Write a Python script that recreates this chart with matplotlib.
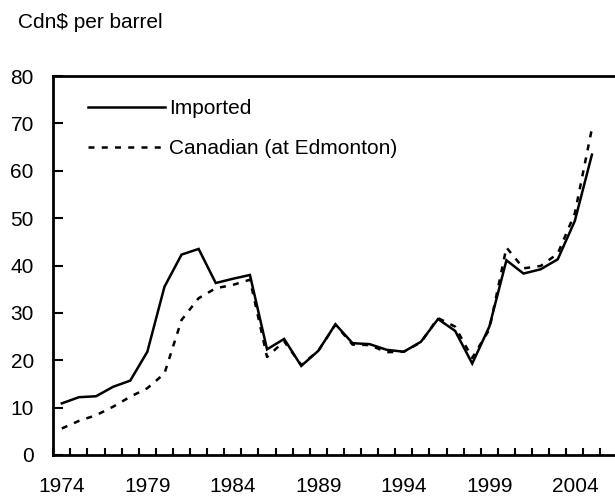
import matplotlib
matplotlib.use("Agg")
import matplotlib.pyplot as plt
import numpy as np

years = list(range(1974, 2006))
imported = [10.9, 12.2, 12.4, 14.4, 15.7, 21.8, 35.5, 42.3, 43.5, 36.3, 37.2, 38.0,
            22.3, 24.5, 18.8, 22.0, 27.6, 23.6, 23.4, 22.2, 21.8, 23.9, 28.7, 26.2,
            19.3, 27.1, 41.1, 38.3, 39.2, 41.3, 49.4, 63.4]
canadian = [5.6, 7.2, 8.4, 10.2, 12.3, 14.1, 17.2, 28.5, 33.1, 35.2, 35.9, 37.0,
            20.7, 24.0, 19.0, 22.0, 27.5, 23.3, 23.2, 21.7, 21.8, 23.8, 28.9, 27.1,
            20.5, 26.5, 43.8, 39.4, 39.9, 42.5, 51.0, 68.9]
xtick_labels = ["1974", "1979", "1984", "1989", "1994", "1999", "2004"]
ytick_values = [0, 10, 20, 30, 40, 50, 60, 70, 80]

plt.rcParams['font.family'] = ['Liberation Sans', 'DejaVu Sans']
fs = 15

fig = plt.figure(figsize=(6.15, 4.96), dpi=100)
ax = fig.add_axes([53.3/615, 41/496, 1 - 53.3/615, (455-76)/496])

x = np.arange(len(years))
ax.plot(x, imported, color='black', lw=1.8, label='Imported', solid_joinstyle='miter')
ax.plot(x, canadian, color='black', lw=1.8, linestyle=(0, (2.4, 2.9)),
        label='Canadian (at Edmonton)')

ax.set_ylim(0, 80)
ax.set_xlim(-0.5, 32.35)
ax.set_yticks(ytick_values)
ax.set_yticklabels([str(v) for v in ytick_values], fontsize=fs)

label_pos = [years.index(int(s)) for s in xtick_labels]
ax.set_xticks(label_pos)
ax.set_xticklabels(xtick_labels, fontsize=fs)
ax.set_xticks(np.arange(-0.5, 32.4, 1.0), minor=True)
ax.tick_params(axis='x', which='major', length=0, pad=16)
ax.tick_params(axis='x', which='minor', direction='in', length=5, width=1.5)
ax.tick_params(axis='y', direction='in', length=7, width=1.5, pad=14)

for s in ['left', 'bottom', 'top']:
    ax.spines[s].set_linewidth(2)
ax.spines['right'].set_visible(False)

ax.legend(loc='upper left', bbox_to_anchor=((88-53.3)/561.7, (455-99)/379),
          frameon=False, fontsize=fs, handlelength=3.7, handletextpad=0.2,
          labelspacing=1.0, borderpad=0, borderaxespad=0)

fig.text(18/615, 1 - 13/496, "Cdn$ per barrel", fontsize=fs, ha='left', va='top')

fig.savefig("out.png", dpi=100)
